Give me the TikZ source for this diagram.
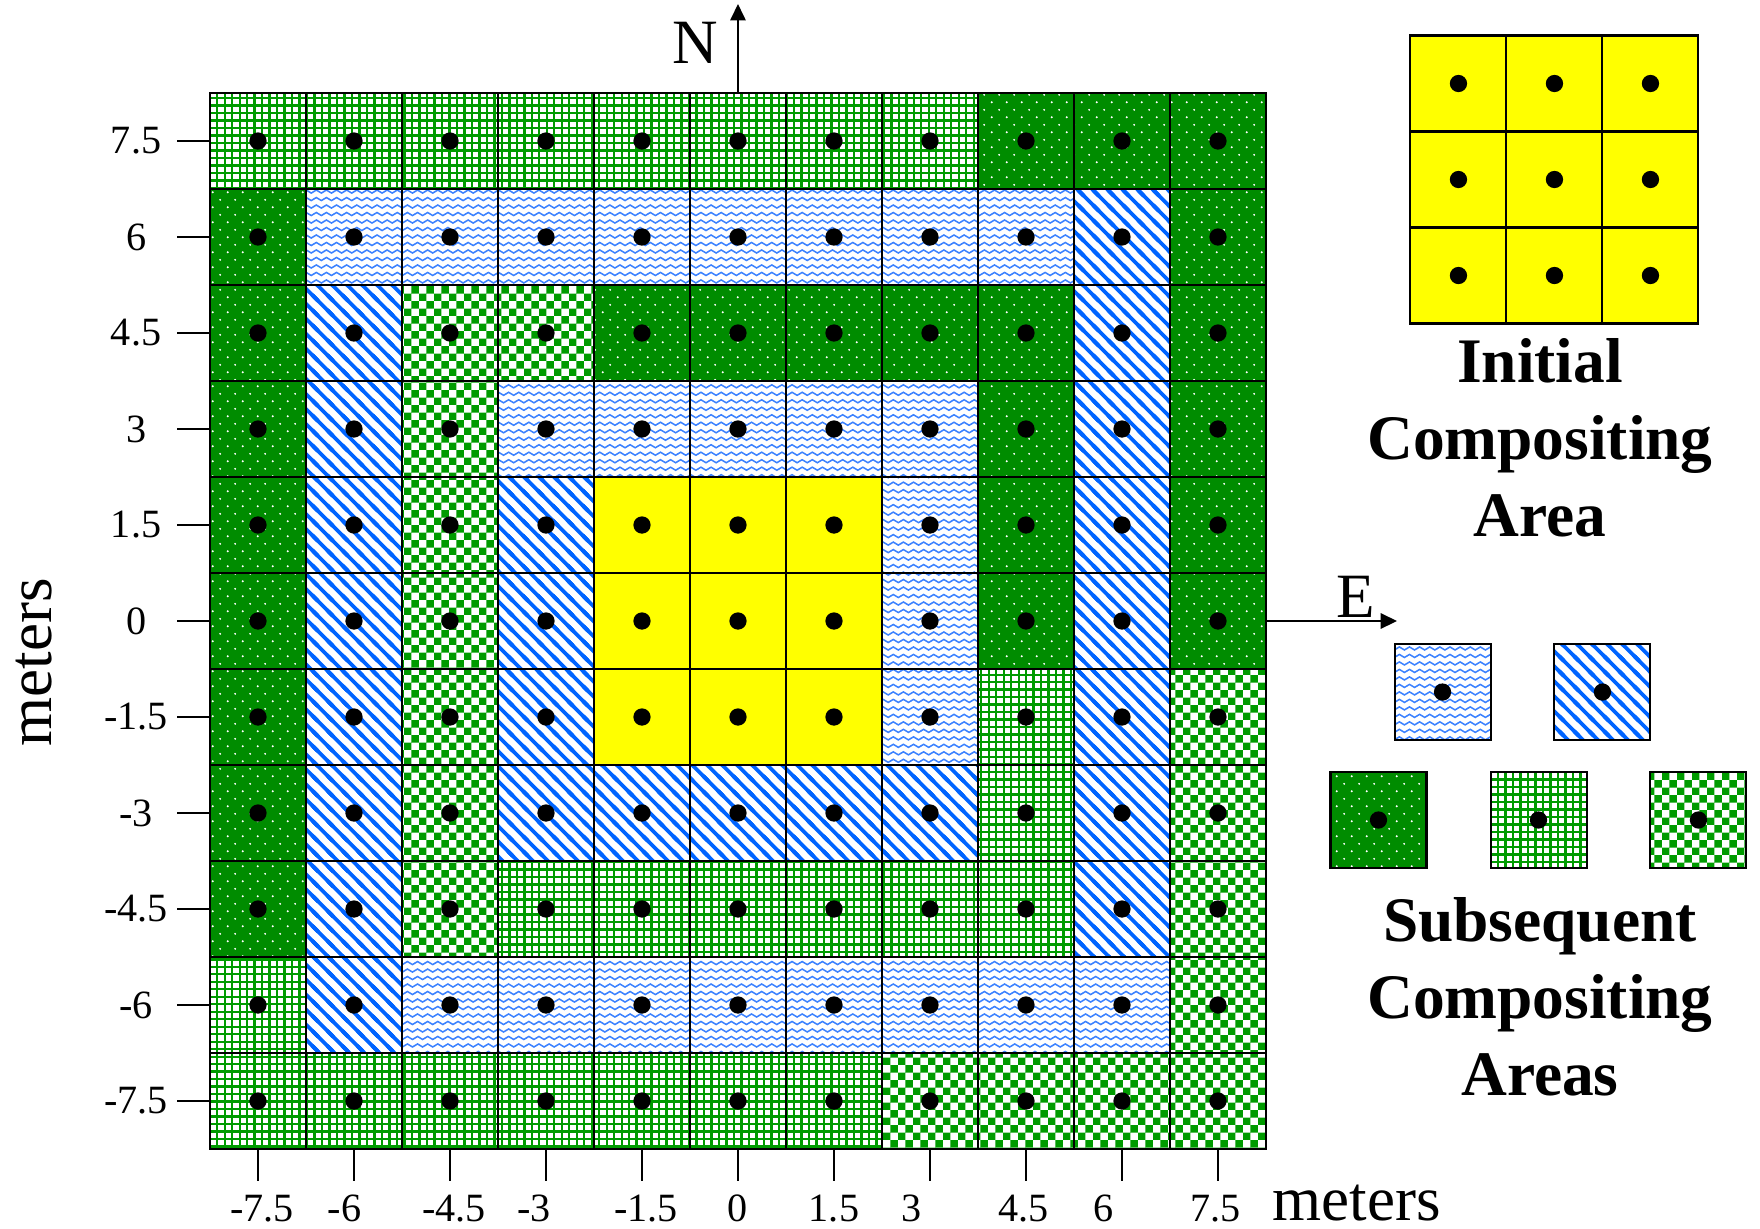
\documentclass[tikz,border=0pt]{standalone}
\usepackage{fontspec}
\setmainfont{Liberation Serif}
\usetikzlibrary{patterns,arrows.meta}

\definecolor{dkgreen}{RGB}{0,140,0}
\definecolor{meshgreen}{RGB}{0,155,0}
\definecolor{stripeblue}{RGB}{0,100,255}
\definecolor{waveblue}{RGB}{60,130,255}
\definecolor{initfill}{RGB}{255,255,0}

\pgfdeclarepatternformonly{meshlines}{\pgfqpoint{-0.5pt}{-0.5pt}}{\pgfqpoint{2.72pt}{2.72pt}}{\pgfqpoint{2.22pt}{2.22pt}}{%
  \pgfsetlinewidth{0.7pt}
  \pgfpathmoveto{\pgfqpoint{0pt}{0pt}}\pgfpathlineto{\pgfqpoint{0pt}{2.3pt}}
  \pgfpathmoveto{\pgfqpoint{0pt}{0pt}}\pgfpathlineto{\pgfqpoint{2.3pt}{0pt}}
  \pgfusepath{stroke}}
\pgfdeclarepatternformonly{checks}{\pgfpointorigin}{\pgfqpoint{4.44pt}{4.44pt}}{\pgfqpoint{4.44pt}{4.44pt}}{%
  \pgfpathrectangle{\pgfpointorigin}{\pgfqpoint{2.22pt}{2.22pt}}
  \pgfpathrectangle{\pgfqpoint{2.22pt}{2.22pt}}{\pgfqpoint{2.22pt}{2.22pt}}
  \pgfusepath{fill}}
\pgfdeclarepatternformonly{wdots}{\pgfpointorigin}{\pgfqpoint{4.44pt}{4.44pt}}{\pgfqpoint{4.44pt}{4.44pt}}{%
  \pgfpathcircle{\pgfqpoint{1.11pt}{1.11pt}}{0.3pt}
  \pgfpathcircle{\pgfqpoint{3.33pt}{3.33pt}}{0.3pt}
  \pgfusepath{fill}}
\pgfdeclarepatternformonly{waves}{\pgfqpoint{-0.3pt}{0pt}}{\pgfqpoint{3.3pt}{2.22pt}}{\pgfqpoint{3pt}{2.22pt}}{%
  \pgfsetlinewidth{0.45pt}\pgfsetroundcap
  \pgfpathmoveto{\pgfqpoint{0pt}{1.11pt}}
  \pgfpathsine{\pgfqpoint{0.75pt}{0.45pt}}
  \pgfpathcosine{\pgfqpoint{0.75pt}{-0.45pt}}
  \pgfpathsine{\pgfqpoint{0.75pt}{-0.45pt}}
  \pgfpathcosine{\pgfqpoint{0.75pt}{0.45pt}}
  \pgfusepath{stroke}}
% "\" stripes, 4.45pt apart along a row
\pgfdeclarepatternformonly{slants}{\pgfqpoint{-1pt}{-1pt}}{\pgfqpoint{5.45pt}{5.45pt}}{\pgfqpoint{4.45pt}{4.45pt}}{%
  \pgfsetlinewidth{1.1pt}
  \pgfpathmoveto{\pgfqpoint{-1pt}{1pt}}\pgfpathlineto{\pgfqpoint{1pt}{-1pt}}
  \pgfpathmoveto{\pgfqpoint{-1pt}{5.45pt}}\pgfpathlineto{\pgfqpoint{5.45pt}{-1pt}}
  \pgfpathmoveto{\pgfqpoint{3.45pt}{5.45pt}}\pgfpathlineto{\pgfqpoint{5.45pt}{3.45pt}}
  \pgfusepath{stroke}}

\begin{document}
\begin{tikzpicture}[
    cell/.style={draw, line width=0.6pt, minimum size=1cm, inner sep=0pt, outer sep=0pt},
    M/.style={pattern=meshlines, pattern color=meshgreen},
    D/.style={preaction={fill=dkgreen}, pattern=wdots, pattern color=white},
    W/.style={pattern=waves, pattern color=waveblue},
    S/.style={pattern=slants, pattern color=stripeblue},
    K/.style={pattern=checks, pattern color=meshgreen},
    Y/.style={fill=initfill},
    tick/.style={line width=0.45pt},
    ticklab/.style={font=\fontsize{11.9}{14}\selectfont, inner sep=0pt},
    bigtxt/.style={font=\fontsize{18.7}{22}\selectfont, inner sep=0pt},
    captxt/.style={font=\fontsize{18.8}{22.8}\selectfont\bfseries, align=center, inner sep=0pt},
    compass/.style={line width=0.5pt, -{Triangle[length=0.17cm,width=0.16cm]}}]
\useasboundingbox (-7.6875,-6.333) rectangle (10.646,6.469);

% field cells, top row first
\foreach \row [count=\j] in {
    {M,M,M,M,M,M,M,M,D,D,D},
    {D,W,W,W,W,W,W,W,W,S,D},
    {D,S,K,K,D,D,D,D,D,S,D},
    {D,S,K,W,W,W,W,W,D,S,D},
    {D,S,K,S,Y,Y,Y,W,D,S,D},
    {D,S,K,S,Y,Y,Y,W,D,S,D},
    {D,S,K,S,Y,Y,Y,W,M,S,K},
    {D,S,K,S,S,S,S,S,M,S,K},
    {D,S,K,M,M,M,M,M,M,S,K},
    {M,S,W,W,W,W,W,W,W,W,K},
    {M,M,M,M,M,M,M,K,K,K,K}}
  \foreach \c [count=\i] in \row {
    \node[cell,\c] (c-\i-\j) at (\i-6,6-\j) {};
    \fill (c-\i-\j) circle (0.09);
  }

\foreach \lab [count=\j] in {7.5,6,4.5,3,1.5,0,-1.5,-3,-4.5,-6,-7.5}{
    \draw[tick] (c-1-\j.west) -- ++(-0.34,0);
    \node[ticklab] (ylab-\j) at (-6.27,6-\j) {\lab};
}
\foreach \lab/\dx [count=\i] in {-7.5/0.04,-6/-0.1,-4.5/0.04,-3/-0.125,-1.5/0.04,0/0,1.5/0,3/-0.19,4.5/-0.03,6/-0.19,7.5/-0.03}{
    \draw[tick] (c-\i-11.south) -- ++(0,-0.33);
    \node[ticklab, anchor=base] (xlab-\i) at (\i-6+\dx,-6.25) {\lab};
}

\coordinate (ntip) at (0,6.427);
\coordinate (etip) at (6.865,0);
\draw[compass] (c-6-1.north) -- (ntip);
\draw[compass] (c-11-6.east) -- (etip);
\node[bigtxt] (nlab) at (-0.448,6.02) {N};
\node[bigtxt] (elab) at (6.44,0.25) {E};
\node[bigtxt, anchor=base west] (xunit) at (5.56,-6.24) {meters};
\node[bigtxt, rotate=90] (yunit) at (-7.33,-0.43) {meters};

% legend
\foreach \i in {1,2,3}
  \foreach \j in {1,2,3}{
    \node[cell,Y] (init-\i-\j) at (6.505+\i,6.599-\j) {};
    \fill (init-\i-\j) circle (0.09);
  }
\node[captxt] (initcap) at (8.354,1.906) {Initial\\Compositing\\Area};

\node[cell,W] (key-W) at (7.339,-0.74) {};
\node[cell,S] (key-S) at (9.005,-0.74) {};
\node[cell,D] (key-D) at (6.672,-2.073) {};
\node[cell,M] (key-M) at (8.339,-2.073) {};
\node[cell,K] (key-K) at (10.005,-2.073) {};
\foreach \k in {W,S,D,M,K}
    \fill (key-\k) circle (0.09);
\node[captxt] (subcap) at (8.354,-3.917) {Subsequent\\Compositing\\Areas};
\end{tikzpicture}
\end{document}
